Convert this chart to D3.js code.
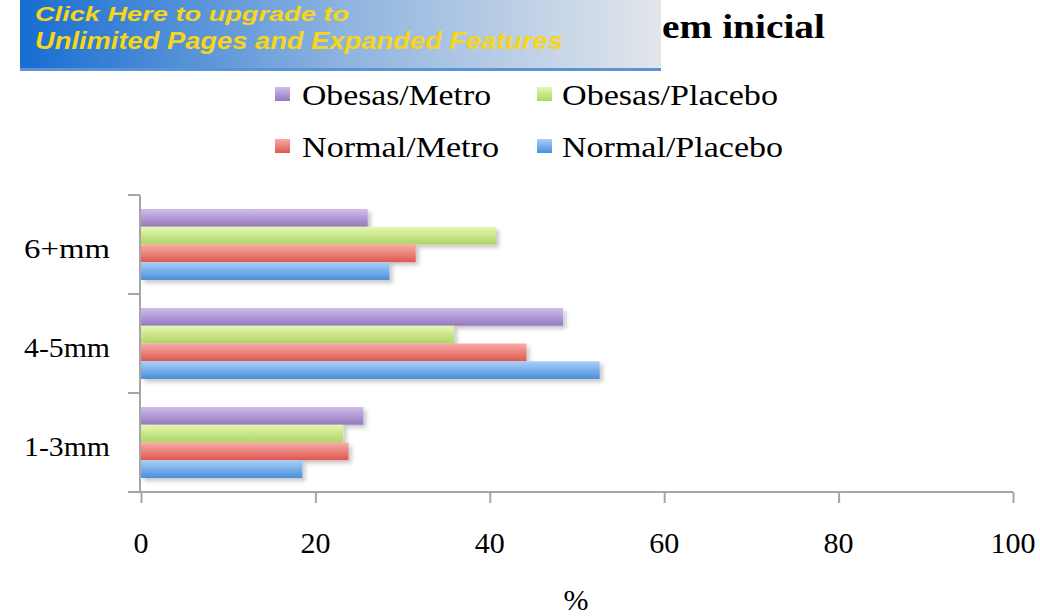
<!DOCTYPE html>
<html>
<head>
<meta charset="utf-8">
<script src="https://cdn.jsdelivr.net/npm/d3@7"></script>
<style>
  html, body { margin: 0; padding: 0; background: #ffffff; }
  svg { display: block; }
</style>
</head>
<body>
<script>
// ---- data ----
const categories = ["1-3mm", "4-5mm", "6+mm"];
const seriesNames = ["Obesas/Metro", "Obesas/Placebo", "Normal/Metro", "Normal/Placebo"];
const obesasMetro   = [25.5, 48.4, 26.0];
const obesasPlacebo = [23.2, 35.9, 40.7];
const normalMetro   = [23.8, 44.2, 31.5];
const normalPlacebo = [18.5, 52.6, 28.5];
const xTicks = [0, 20, 40, 60, 80, 100];
const axisTitle = "%";
const titleVisible = "em inicial";
const bannerLines = ["Click Here to upgrade to", "Unlimited Pages and Expanded Features"];

const seriesValues = [obesasMetro, obesasPlacebo, normalMetro, normalPlacebo];
const seriesColors = [
  ["#d0bced", "#9579be"],
  ["#e4f8b0", "#afd466"],
  ["#f9aca7", "#dd574f"],
  ["#aacff8", "#4a8edb"]
];

const W = 1040, H = 616;
const svg = d3.select("body").append("svg").attr("width", W).attr("height", H);
const defs = svg.append("defs");

seriesColors.forEach((c, i) => {
  const g = defs.append("linearGradient").attr("id", "g" + i)
    .attr("x1", 0).attr("y1", 0).attr("x2", 0).attr("y2", 1);
  g.append("stop").attr("offset", "0%").attr("stop-color", c[0]);
  g.append("stop").attr("offset", "100%").attr("stop-color", c[1]);
});
const f = defs.append("filter").attr("id", "shadow")
  .attr("x", "-5%").attr("y", "-30%").attr("width", "115%").attr("height", "180%");
f.append("feDropShadow").attr("dx", 3).attr("dy", 3).attr("stdDeviation", 2)
  .attr("flood-color", "#000").attr("flood-opacity", 0.22);

const bg = defs.append("linearGradient").attr("id", "banner")
  .attr("x1", 0).attr("y1", 0).attr("x2", 1).attr("y2", 0);
bg.append("stop").attr("offset", "0%").attr("stop-color", "#176dd2");
bg.append("stop").attr("offset", "50%").attr("stop-color", "#8db3df");
bg.append("stop").attr("offset", "100%").attr("stop-color", "#e3e6eb");

// ---- scales ----
const x = d3.scaleLinear().domain([0, 100]).range([141, 1013]);
const y0 = d3.scaleBand().domain(categories.slice().reverse()).range([195, 492]).padding(0);
const y1 = d3.scaleBand().domain(seriesNames).range([0, y0.bandwidth()]).paddingInner(0).paddingOuter(0.79);

// ---- bars ----
const barsG = svg.append("g");
categories.forEach((cat, ci) => {
  const g = barsG.append("g").attr("transform", `translate(0,${y0(cat)})`);
  g.selectAll("rect").data(seriesNames).join("rect")
    .attr("x", x(0))
    .attr("y", s => y1(s))
    .attr("height", y1.bandwidth())
    .attr("width", (s, si) => x(seriesValues[si][ci]) - x(0))
    .attr("fill", (s, si) => `url(#g${si})`)
    .attr("filter", "url(#shadow)");
});

// ---- axes ----
const axisColor = "#a6a6a6";
const xAxis = svg.append("g").attr("transform", "translate(0,492)")
  .call(d3.axisBottom(x).tickValues(xTicks).tickSize(11).tickSizeOuter(0).tickFormat(""));
xAxis.select(".domain").attr("stroke", axisColor).attr("stroke-width", 2)
  .attr("d", `M128,0H${x(100)}`);
xAxis.selectAll(".tick line").attr("stroke", axisColor).attr("stroke-width", 2);

svg.append("g").selectAll("text").data(xTicks).join("text")
  .attr("x", d => x(d)).attr("y", 553)
  .attr("text-anchor", "middle")
  .attr("font-family", "Liberation Serif, DejaVu Serif, serif")
  .attr("font-size", 30).attr("fill", "#000")
  .text(d => d);

const yAxis = svg.append("g").attr("transform", "translate(140,0)")
  .call(d3.axisLeft(y0).tickSize(0).tickFormat(""));
yAxis.select(".domain").attr("stroke", axisColor).attr("stroke-width", 2)
  .attr("d", "M0,195V492");
const yTickPos = categories.slice().reverse().map(c => y0(c));
yTickPos.push(y0.range()[1]);
svg.append("g").selectAll("line").data(yTickPos).join("line")
  .attr("x1", 128).attr("x2", 140).attr("y1", d => d).attr("y2", d => d)
  .attr("stroke", axisColor).attr("stroke-width", 2);

svg.append("g").selectAll("text").data(categories).join("text")
  .attr("x", 110)
  .attr("y", d => y0(d) + y0.bandwidth() / 2 + 13)
  .attr("text-anchor", "end")
  .attr("font-family", "Liberation Serif, DejaVu Serif, serif")
  .attr("font-size", 28).attr("fill", "#000")
  .attr("textLength", 86).attr("lengthAdjust", "spacingAndGlyphs")
  .text(d => d);

svg.append("text").attr("x", 576).attr("y", 610)
  .attr("text-anchor", "middle")
  .attr("font-family", "Liberation Serif, DejaVu Serif, serif")
  .attr("font-size", 30).attr("fill", "#000").text(axisTitle);

// ---- legend ----
const legendItems = [
  { name: seriesNames[0], idx: 0, sx: 275, tx: 302, by: 105, w: 189 },
  { name: seriesNames[1], idx: 1, sx: 537, tx: 562, by: 105, w: 216 },
  { name: seriesNames[2], idx: 2, sx: 275, tx: 302, by: 157, w: 197 },
  { name: seriesNames[3], idx: 3, sx: 537, tx: 562, by: 157, w: 221 }
];
const lg = svg.append("g");
legendItems.forEach(it => {
  lg.append("rect").attr("x", it.sx).attr("y", it.by - 18).attr("width", 15).attr("height", 14)
    .attr("fill", `url(#g${it.idx})`);
  lg.append("text").attr("x", it.tx).attr("y", it.by)
    .attr("font-family", "Liberation Serif, DejaVu Serif, serif")
    .attr("font-size", 29).attr("fill", "#000")
    .attr("textLength", it.w).attr("lengthAdjust", "spacingAndGlyphs")
    .text(it.name);
});

// ---- title ----
svg.append("text").attr("x", 825).attr("y", 38).attr("text-anchor", "end")
  .attr("font-family", "Liberation Serif, DejaVu Serif, serif")
  .attr("font-weight", "bold").attr("font-size", 33).attr("fill", "#000")
  .attr("textLength", 163).attr("lengthAdjust", "spacingAndGlyphs")
  .text(titleVisible);

// ---- banner ----
svg.append("rect").attr("x", 20).attr("y", 0).attr("width", 641).attr("height", 71)
  .attr("fill", "url(#banner)");
svg.append("rect").attr("x", 20).attr("y", 68).attr("width", 641).attr("height", 3)
  .attr("fill", "#5a93d6");
svg.append("text").attr("x", 35).attr("y", 21)
  .attr("font-family", "Liberation Sans, Arial, sans-serif")
  .attr("font-weight", "bold").attr("font-style", "italic")
  .attr("font-size", 21).attr("fill", "#f7d51a")
  .attr("textLength", 314).attr("lengthAdjust", "spacingAndGlyphs")
  .text(bannerLines[0]);
svg.append("text").attr("x", 35).attr("y", 49)
  .attr("font-family", "Liberation Sans, Arial, sans-serif")
  .attr("font-weight", "bold").attr("font-style", "italic")
  .attr("font-size", 23).attr("fill", "#f7d51a")
  .attr("textLength", 528).attr("lengthAdjust", "spacingAndGlyphs")
  .text(bannerLines[1]);
</script>
</body>
</html>
